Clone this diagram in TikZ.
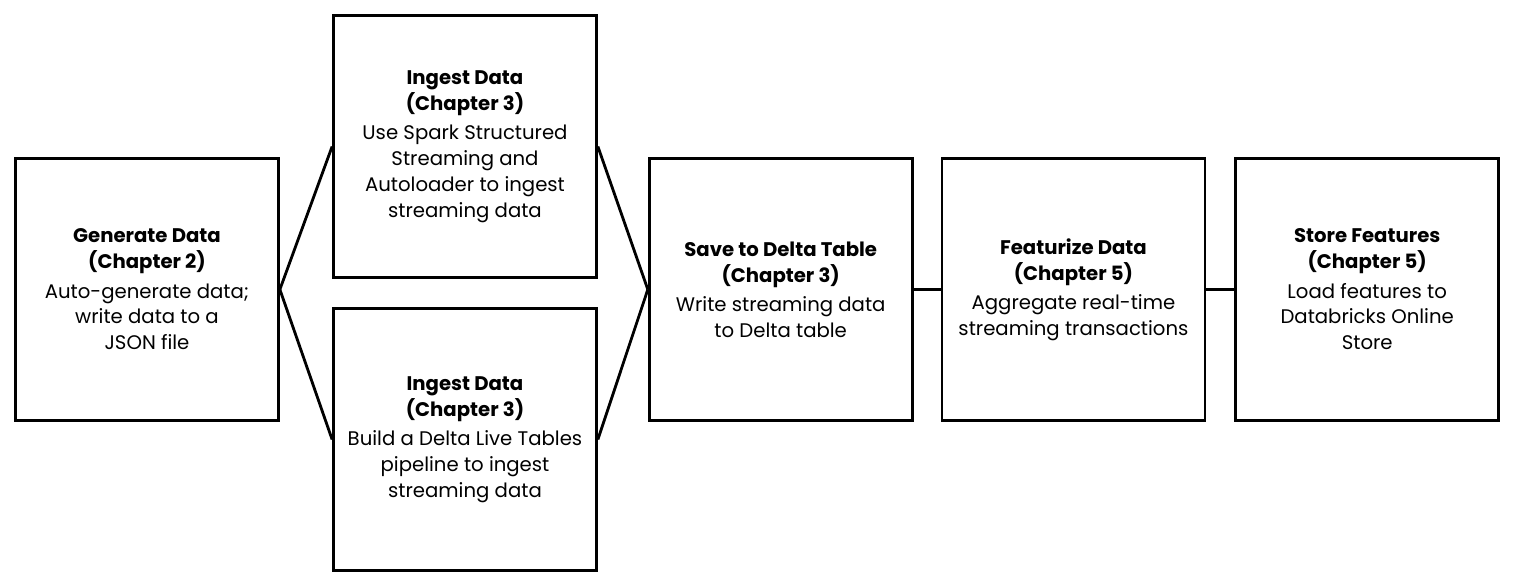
\documentclass[tikz,border=0pt]{standalone}
\usepackage{fontspec}
\setmainfont{Poppins}
\usetikzlibrary{positioning}

\begin{document}
\begin{tikzpicture}[x=0.02cm,y=0.02cm,
	  stage/.style={draw,line width=1.6pt,minimum width=5.26cm,minimum height=5.24cm,
	    align=center,inner sep=2pt,font=\fontsize{11.2}{14.7}\selectfont},
	  link/.style={line width=1.6pt}]
	  \useasboundingbox (0,0) rectangle (1514,587);
	  \node[stage] (gen) at (147,297.5) {\textbf{Generate Data}\\\textbf{(Chapter 2)}\\[2pt]
	    Auto-generate data;\\write data to a\\JSON file};
	  \node[stage] (ingA) at (465,440.5) {\textbf{Ingest Data}\\\textbf{(Chapter 3)}\\[2pt]
	    Use Spark Structured\\Streaming and\\Autoloader to ingest\\streaming data};
	  \node[stage] (ingB) at (465,147.5) {\textbf{Ingest Data}\\\textbf{(Chapter 3)}\\[2pt]
	    Build a Delta Live Tables\\pipeline to ingest\\streaming data};
	  \node[stage,right=7.36cm of gen] (save) {\textbf{Save to Delta Table}\\\textbf{(Chapter 3)}\\[2pt]
	    Write streaming data\\to Delta table};
	  \node[stage,right=0.54cm of save] (feat) {\textbf{Featurize Data}\\\textbf{(Chapter 5)}\\[2pt]
	    Aggregate real-time\\streaming transactions};
	  \node[stage,right=0.56cm of feat] (store) {\textbf{Store Features}\\\textbf{(Chapter 5)}\\[2pt]
	    Load features to\\Databricks Online\\Store};
	  \draw[link] (gen.east) -- (ingA.west);
	  \draw[link] (gen.east) -- (ingB.west);
	  \draw[link] (ingA.east) -- (save.west);
	  \draw[link] (ingB.east) -- (save.west);
	  \draw[link] (save) -- (feat);
	  \draw[link] (feat) -- (store);
	\end{tikzpicture}
\end{document}
